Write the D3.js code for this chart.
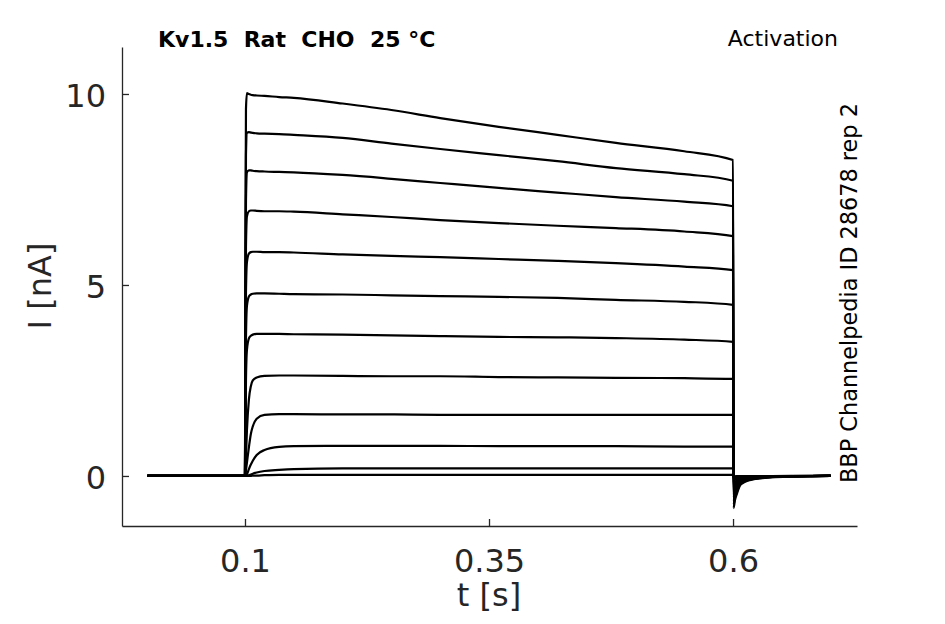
<!DOCTYPE html>
<html>
<head>
<meta charset="utf-8">
<script src="https://cdn.jsdelivr.net/npm/d3@7"></script>
<style>
  body { margin: 0; background: #fff; }
  svg text { font-family: "DejaVu Sans", sans-serif; fill: #262626; }
</style>
</head>
<body>
<script>

// time grid for the voltage step (s)
var pulseTimes = [0, 0.1, 0.1005, 0.101, 0.102, 0.104, 0.106, 0.108, 0.112, 0.12,
                  0.135, 0.15, 0.2, 0.25, 0.3, 0.36, 0.42, 0.48, 0.55, 0.6];

// current (nA) for each sweep on pulseTimes
var sweepCurrents = [
  [0, 0, 6.0, 9.6, 10.02, 10.0, 9.98, 9.97, 9.96, 9.95, 9.92, 9.9, 9.75, 9.58, 9.37, 9.14, 8.93, 8.72, 8.5, 8.27],
  [0, 0, 5.0, 8.4, 8.98, 9.0, 8.99, 8.98, 8.97, 8.96, 8.95, 8.93, 8.85, 8.7, 8.56, 8.4, 8.24, 8.06, 7.9, 7.73],
  [0, 0, 4.0, 7.2, 7.95, 8.0, 8.0, 7.99, 7.98, 7.97, 7.96, 7.95, 7.88, 7.78, 7.67, 7.54, 7.42, 7.3, 7.18, 7.06],
  [0, 0, 3.2, 6.0, 6.8, 6.93, 6.95, 6.95, 6.94, 6.93, 6.93, 6.92, 6.85, 6.78, 6.7, 6.62, 6.55, 6.49, 6.4, 6.28],
  [0, 0, 2.5, 4.8, 5.6, 5.82, 5.86, 5.87, 5.87, 5.86, 5.86, 5.85, 5.8, 5.76, 5.73, 5.68, 5.63, 5.57, 5.48, 5.39],
  [0, 0, 1.8, 3.6, 4.45, 4.7, 4.75, 4.77, 4.78, 4.78, 4.77, 4.76, 4.75, 4.73, 4.71, 4.69, 4.66, 4.61, 4.56, 4.48],
  [0, 0, 1.2, 2.5, 3.3, 3.6, 3.67, 3.7, 3.72, 3.72, 3.72, 3.71, 3.7, 3.68, 3.66, 3.64, 3.63, 3.61, 3.57, 3.51],
  [0, 0, 0.2, 0.5, 1.2, 2.0, 2.35, 2.5, 2.58, 2.62, 2.63, 2.63, 2.62, 2.61, 2.61, 2.59, 2.58, 2.57, 2.56, 2.54],
  [0, 0, 0.05, 0.15, 0.35, 0.75, 1.1, 1.3, 1.5, 1.6, 1.62, 1.62, 1.61, 1.61, 1.6, 1.6, 1.6, 1.6, 1.6, 1.6],
  [0, 0, 0, 0.02, 0.05, 0.18, 0.3, 0.4, 0.55, 0.68, 0.76, 0.78, 0.79, 0.79, 0.79, 0.78, 0.78, 0.78, 0.77, 0.77],
  [0, 0, 0, 0, 0.01, 0.02, 0.04, 0.06, 0.09, 0.13, 0.16, 0.18, 0.2, 0.2, 0.2, 0.2, 0.2, 0.2, 0.2, 0.2],
  [0, 0, 0, 0, 0, 0, 0, 0.01, 0.01, 0.02, 0.03, 0.03, 0.03, 0.03, 0.03, 0.03, 0.03, 0.03, 0.03, 0.03]
];

// tail after the step
var tailTimes = [0.6005, 0.602, 0.604, 0.607, 0.61, 0.615, 0.62, 0.63, 0.64, 0.66, 0.68, 0.7];
var tailShape = [1, 0.75, 0.55, 0.3, 0.22, 0.15, 0.11, 0.07, 0.04, 0.015, 0.005, 0];
var tailPeaks = [-0.84, -0.75, -0.66, -0.57, -0.48, -0.39, -0.3, -0.22, -0.14, -0.08, -0.03, -0.01];

var xTicks = [0.1, 0.35, 0.6];
var yTicks = [0, 5, 10];

var width = 945, height = 624;

var svg = d3.select("body").append("svg")
    .attr("width", width)
    .attr("height", height);

var x = d3.scaleLinear().domain([-0.026, 0.727]).range([122, 857]);
var y = d3.scaleLinear().domain([-1.31, 11.23]).range([526, 47]);

// build each sweep = step part + tail part
var sweeps = sweepCurrents.map(function (vals, i) {
  var pts = pulseTimes.map(function (t, j) { return [t, vals[j]]; });
  tailTimes.forEach(function (t, j) { pts.push([t, tailPeaks[i] * tailShape[j]]); });
  return pts;
});

var line = d3.line()
    .x(function (d) { return x(d[0]); })
    .y(function (d) { return y(d[1]); })
    .curve(d3.curveMonotoneX);

svg.append("g").selectAll("path")
    .data(sweeps)
    .enter().append("path")
      .attr("d", line)
      .attr("fill", "none")
      .attr("stroke", "#000")
      .attr("stroke-width", 2.2)
      .attr("stroke-linejoin", "round");

// axes, ticks pointing inward
var xAxis = svg.append("g")
    .attr("transform", "translate(0,526)")
    .call(d3.axisBottom(x).tickValues(xTicks).tickSize(-7).tickSizeOuter(0)
      .tickFormat(function (d) { return String(d); }));

var yAxis = svg.append("g")
    .attr("transform", "translate(122,0)")
    .call(d3.axisLeft(y).tickValues(yTicks).tickSize(-7).tickSizeOuter(0).tickPadding(16));

[xAxis, yAxis].forEach(function (g) {
  g.select(".domain").attr("stroke", "#262626").attr("stroke-width", 1.3);
  g.selectAll(".tick line").attr("stroke", "#262626").attr("stroke-width", 1.3);
  g.selectAll(".tick text").attr("fill", "#262626")
    .style("font-family", "'DejaVu Sans', sans-serif")
    .style("font-size", "32px");
});
xAxis.selectAll(".tick text").attr("dy", null).attr("y", 46);
yAxis.selectAll(".tick text").attr("dy", "0.39em");

svg.append("text")
    .attr("x", 489).attr("y", 606)
    .attr("text-anchor", "middle")
    .style("font-size", "32px")
    .text("t [s]");

svg.append("text")
    .attr("transform", "translate(51,286) rotate(-90)")
    .attr("text-anchor", "middle")
    .style("font-size", "32px")
    .text("I [nA]");

svg.append("text")
    .attr("x", 158).attr("y", 47)
    .style("font-size", "22px")
    .style("font-weight", "bold")
    .style("white-space", "pre")
    .style("fill", "#000")
    .text("Kv1.5  Rat  CHO  25 \u00B0C");

svg.append("text")
    .attr("x", 838).attr("y", 46)
    .attr("text-anchor", "end")
    .style("font-size", "22px")
    .style("fill", "#000")
    .text("Activation");

svg.append("text")
    .attr("transform", "translate(857,483) rotate(-90)")
    .style("font-size", "22.4px")
    .style("fill", "#000")
    .text("BBP Channelpedia ID 28678 rep 2");

</script>
</body>
</html>
